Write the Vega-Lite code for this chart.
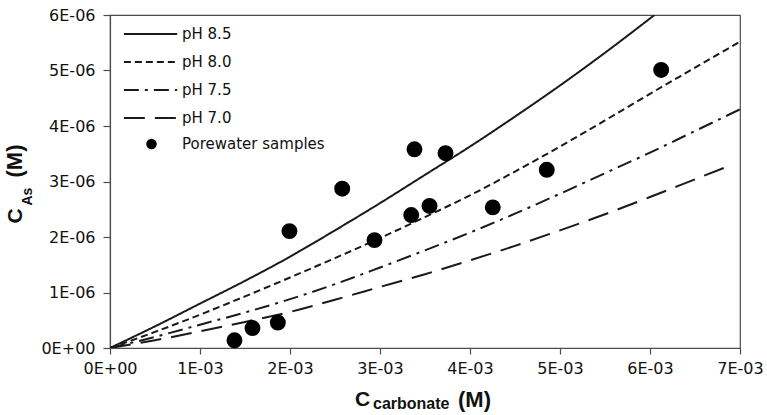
{
  "$schema": "https://vega.github.io/schema/vega-lite/v6.json",
  "width": 630,
  "height": 333,
  "autosize": {"type": "none"},
  "padding": {"left": 110, "top": 15, "right": 27, "bottom": 67},
  "background": "white",
  "datasets": {
    "curves": [
      {"series": "pH 8.5", "carbonate": 0, "arsenic": 0},
      {"series": "pH 8.5", "carbonate": 0.0005, "arsenic": 3.9e-7},
      {"series": "pH 8.5", "carbonate": 0.001, "arsenic": 8.0e-7},
      {"series": "pH 8.5", "carbonate": 0.0015, "arsenic": 1.21e-6},
      {"series": "pH 8.5", "carbonate": 0.002, "arsenic": 1.645e-6},
      {"series": "pH 8.5", "carbonate": 0.0025, "arsenic": 2.12e-6},
      {"series": "pH 8.5", "carbonate": 0.003, "arsenic": 2.61e-6},
      {"series": "pH 8.5", "carbonate": 0.0035, "arsenic": 3.12e-6},
      {"series": "pH 8.5", "carbonate": 0.004, "arsenic": 3.63e-6},
      {"series": "pH 8.5", "carbonate": 0.0045, "arsenic": 4.17e-6},
      {"series": "pH 8.5", "carbonate": 0.005, "arsenic": 4.73e-6},
      {"series": "pH 8.5", "carbonate": 0.0055, "arsenic": 5.32e-6},
      {"series": "pH 8.5", "carbonate": 0.00605, "arsenic": 6.0e-6},
      {"series": "pH 8.0", "carbonate": 0, "arsenic": 0},
      {"series": "pH 8.0", "carbonate": 0.0005, "arsenic": 2.9e-7},
      {"series": "pH 8.0", "carbonate": 0.001, "arsenic": 6.0e-7},
      {"series": "pH 8.0", "carbonate": 0.0015, "arsenic": 9.3e-7},
      {"series": "pH 8.0", "carbonate": 0.002, "arsenic": 1.27e-6},
      {"series": "pH 8.0", "carbonate": 0.0025, "arsenic": 1.62e-6},
      {"series": "pH 8.0", "carbonate": 0.003, "arsenic": 1.98e-6},
      {"series": "pH 8.0", "carbonate": 0.0035, "arsenic": 2.36e-6},
      {"series": "pH 8.0", "carbonate": 0.004, "arsenic": 2.75e-6},
      {"series": "pH 8.0", "carbonate": 0.0045, "arsenic": 3.18e-6},
      {"series": "pH 8.0", "carbonate": 0.005, "arsenic": 3.63e-6},
      {"series": "pH 8.0", "carbonate": 0.0055, "arsenic": 4.10e-6},
      {"series": "pH 8.0", "carbonate": 0.006, "arsenic": 4.58e-6},
      {"series": "pH 8.0", "carbonate": 0.0065, "arsenic": 5.05e-6},
      {"series": "pH 8.0", "carbonate": 0.007, "arsenic": 5.52e-6},
      {"series": "pH 7.5", "carbonate": 0, "arsenic": 0},
      {"series": "pH 7.5", "carbonate": 0.0005, "arsenic": 2.0e-7},
      {"series": "pH 7.5", "carbonate": 0.001, "arsenic": 4.2e-7},
      {"series": "pH 7.5", "carbonate": 0.0015, "arsenic": 6.4e-7},
      {"series": "pH 7.5", "carbonate": 0.002, "arsenic": 8.8e-7},
      {"series": "pH 7.5", "carbonate": 0.0025, "arsenic": 1.15e-6},
      {"series": "pH 7.5", "carbonate": 0.003, "arsenic": 1.45e-6},
      {"series": "pH 7.5", "carbonate": 0.0035, "arsenic": 1.76e-6},
      {"series": "pH 7.5", "carbonate": 0.004, "arsenic": 2.08e-6},
      {"series": "pH 7.5", "carbonate": 0.0045, "arsenic": 2.42e-6},
      {"series": "pH 7.5", "carbonate": 0.005, "arsenic": 2.78e-6},
      {"series": "pH 7.5", "carbonate": 0.0055, "arsenic": 3.15e-6},
      {"series": "pH 7.5", "carbonate": 0.006, "arsenic": 3.52e-6},
      {"series": "pH 7.5", "carbonate": 0.0065, "arsenic": 3.91e-6},
      {"series": "pH 7.5", "carbonate": 0.007, "arsenic": 4.30e-6},
      {"series": "pH 7.0", "carbonate": 0, "arsenic": 0},
      {"series": "pH 7.0", "carbonate": 0.0005, "arsenic": 1.4e-7},
      {"series": "pH 7.0", "carbonate": 0.001, "arsenic": 3.0e-7},
      {"series": "pH 7.0", "carbonate": 0.0015, "arsenic": 4.7e-7},
      {"series": "pH 7.0", "carbonate": 0.002, "arsenic": 6.5e-7},
      {"series": "pH 7.0", "carbonate": 0.0025, "arsenic": 8.7e-7},
      {"series": "pH 7.0", "carbonate": 0.003, "arsenic": 1.10e-6},
      {"series": "pH 7.0", "carbonate": 0.0035, "arsenic": 1.33e-6},
      {"series": "pH 7.0", "carbonate": 0.004, "arsenic": 1.58e-6},
      {"series": "pH 7.0", "carbonate": 0.0045, "arsenic": 1.84e-6},
      {"series": "pH 7.0", "carbonate": 0.005, "arsenic": 2.12e-6},
      {"series": "pH 7.0", "carbonate": 0.0055, "arsenic": 2.41e-6},
      {"series": "pH 7.0", "carbonate": 0.006, "arsenic": 2.72e-6},
      {"series": "pH 7.0", "carbonate": 0.0065, "arsenic": 3.04e-6},
      {"series": "pH 7.0", "carbonate": 0.00686, "arsenic": 3.27e-6}
    ],
    "samples": [
      {"kind": "Porewater samples", "carbonate": 0.001383, "arsenic": 1.39e-7},
      {"kind": "Porewater samples", "carbonate": 0.001583, "arsenic": 3.6e-7},
      {"kind": "Porewater samples", "carbonate": 0.001865, "arsenic": 4.58e-7},
      {"kind": "Porewater samples", "carbonate": 0.001994, "arsenic": 2.106e-6},
      {"kind": "Porewater samples", "carbonate": 0.00258, "arsenic": 2.87e-6},
      {"kind": "Porewater samples", "carbonate": 0.002939, "arsenic": 1.944e-6},
      {"kind": "Porewater samples", "carbonate": 0.003347, "arsenic": 2.395e-6},
      {"kind": "Porewater samples", "carbonate": 0.003383, "arsenic": 3.58e-6},
      {"kind": "Porewater samples", "carbonate": 0.00355, "arsenic": 2.56e-6},
      {"kind": "Porewater samples", "carbonate": 0.003728, "arsenic": 3.51e-6},
      {"kind": "Porewater samples", "carbonate": 0.004253, "arsenic": 2.534e-6},
      {"kind": "Porewater samples", "carbonate": 0.004853, "arsenic": 3.21e-6},
      {"kind": "Porewater samples", "carbonate": 0.006124, "arsenic": 5.01e-6}
    ]
  },
  "config": {
    "view": {"stroke": "#4d4d4d", "strokeWidth": 1.2},
    "axis": {
      "grid": false,
      "labelFlush": false,
      "domainColor": "#4d4d4d",
      "domainWidth": 1.2,
      "tickColor": "#4d4d4d",
      "tickWidth": 1.2,
      "labelFont": "DejaVu Sans",
      "labelFontSize": 16,
      "labelColor": "#111111",
      "titleFont": "Liberation Sans",
      "titleFontWeight": "bold",
      "titleColor": "#111111"
    }
  },
  "layer": [
    {
      "data": {"name": "curves"},
      "transform": [{"filter": "datum.series == 'pH 8.5' || datum.series == 'pH 8.0'"}],
      "mark": {"type": "line", "color": "#1a1a1a", "strokeWidth": 2, "clip": true, "interpolate": "monotone"},
      "encoding": {
        "x": {
          "field": "carbonate", "type": "quantitative",
          "scale": {"domain": [0, 0.007], "nice": false, "zero": true},
          "axis": {
            "orient": "bottom",
            "values": [0, 0.001, 0.002, 0.003, 0.004, 0.005, 0.006, 0.007],
            "labelExpr": "datum.value == 0 ? '0E+00' : format(datum.value * 1000, 'd') + 'E-03'",
            "tickSize": 6, "labelPadding": 6,
            "title": "C", "titleFontSize": 21,
            "titleAlign": "left", "titleBaseline": "alphabetic",
            "titleX": 244.5, "titleY": 57
          }
        },
        "y": {
          "field": "arsenic", "type": "quantitative",
          "scale": {"domain": [0, 6e-6], "nice": false},
          "axis": {
            "orient": "left",
            "values": [0, 1e-6, 2e-6, 3e-6, 4e-6, 5e-6, 6e-6],
            "labelExpr": "datum.value == 0 ? '0E+00' : format(datum.value * 1000000, 'd') + 'E-06'",
            "tickSize": 7, "labelPadding": 8,
            "title": "C", "titleFontSize": 21,
            "titleAlign": "left", "titleBaseline": "alphabetic",
            "titleX": -89, "titleY": 208
          }
        },
        "strokeDash": {
          "field": "series", "type": "nominal",
          "scale": {
            "domain": ["pH 8.5", "pH 8.0", "pH 7.5", "pH 7.0"],
            "range": [[1, 0], [7, 4], [15, 6, 3, 6], [21, 10]]
          },
          "legend": {
            "title": null,
            "orient": "none",
            "legendX": 33,
            "legendY": 11.5,
            "padding": 0,
            "symbolType": "M-5.33,0H5.33",
            "symbolSize": 100,
            "symbolStrokeWidth": 2,
            "symbolStrokeColor": "#1a1a1a",
            "symbolFillColor": "transparent",
            "labelFont": "DejaVu Sans",
            "labelFontSize": 15,
            "labelColor": "#111111",
            "labelOffset": 24,
            "rowPadding": 12,
            "labelExpr": "datum.label == 'pH 7.5' ? '\u00a0pH 7.5' : datum.label"
          }
        }
      }
    },
    {
      "data": {"name": "curves"},
      "transform": [{"filter": "datum.series == 'pH 7.5' || datum.series == 'pH 7.0'"}],
      "mark": {"type": "line", "color": "#1a1a1a", "strokeWidth": 2, "clip": true, "interpolate": "monotone"},
      "encoding": {
        "x": {
          "field": "carbonate", "type": "quantitative",
          "axis": {
            "orient": "bottom", "domain": false, "ticks": false, "labels": false,
            "title": "carbonate", "titleFontSize": 16,
            "titleAlign": "left", "titleBaseline": "alphabetic",
            "titleX": 262.5, "titleY": 60
          }
        },
        "y": {
          "field": "arsenic", "type": "quantitative",
          "axis": {
            "orient": "left", "domain": false, "ticks": false, "labels": false,
            "title": "As", "titleFontSize": 14,
            "titleAlign": "left", "titleBaseline": "alphabetic",
            "titleX": -79, "titleY": 190
          }
        },
        "strokeDash": {"field": "series", "type": "nominal"}
      }
    },
    {
      "data": {"name": "samples"},
      "mark": {"type": "point", "filled": true, "color": "#000000", "opacity": 1, "size": 254},
      "encoding": {
        "x": {
          "field": "carbonate", "type": "quantitative",
          "axis": {
            "orient": "bottom", "domain": false, "ticks": false, "labels": false,
            "title": "(M)", "titleFontSize": 22,
            "titleAlign": "left", "titleBaseline": "alphabetic",
            "titleX": 347.5, "titleY": 58
          }
        },
        "y": {
          "field": "arsenic", "type": "quantitative",
          "axis": {
            "orient": "left", "domain": false, "ticks": false, "labels": false,
            "title": "(M)", "titleFontSize": 22,
            "titleAlign": "left", "titleBaseline": "alphabetic",
            "titleX": -88.5, "titleY": 162
          }
        },
        "shape": {
          "field": "kind", "type": "nominal",
          "scale": {"range": ["circle"]},
          "legend": {
            "title": null,
            "orient": "none",
            "legendX": 34,
            "legendY": 121.5,
            "padding": 0,
            "symbolSize": 110,
            "symbolFillColor": "#000000",
            "symbolStrokeColor": "#000000",
            "symbolOpacity": 1,
            "labelFont": "DejaVu Sans",
            "labelFontSize": 15,
            "labelColor": "#111111",
            "labelOffset": 23
          }
        }
      }
    }
  ],
  "resolve": {"axis": {"x": "independent", "y": "independent"}}
}
